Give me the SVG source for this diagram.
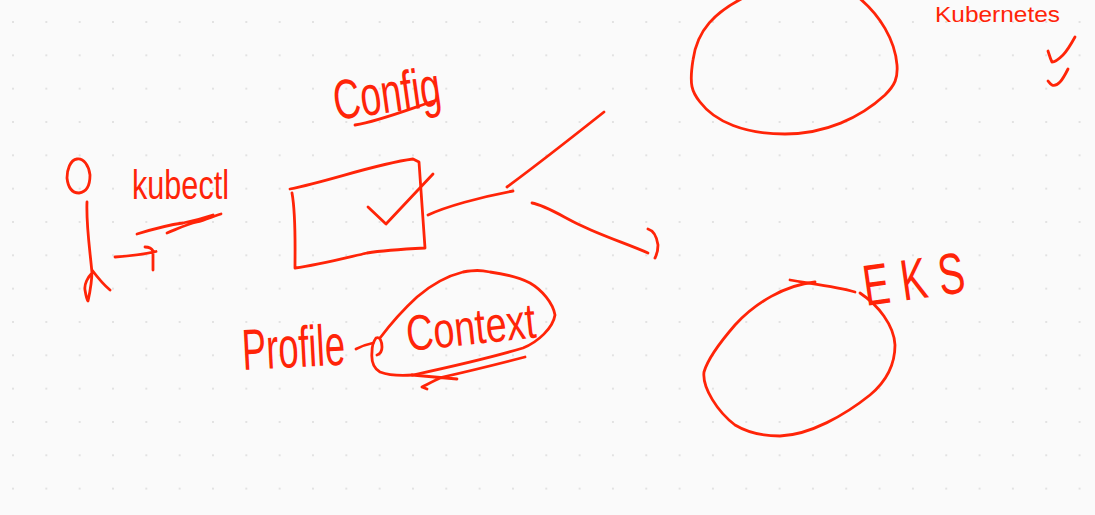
<svg xmlns="http://www.w3.org/2000/svg" width="1095" height="515" viewBox="0 0 1095 515">
<style>
.s{fill:none;stroke:#ff2408;stroke-width:2.8;stroke-linecap:round;stroke-linejoin:round}
.t{fill:#ff2408;font-family:"Liberation Sans Narrow","Liberation Sans",sans-serif;font-weight:400}
</style>
<defs>
<pattern id="dots" x="13" y="22" width="33.33" height="33.33" patternUnits="userSpaceOnUse">
<rect x="-1" y="-1" width="2" height="2" fill="#e2e2e2"/>
<rect x="32.33" y="-1" width="2" height="2" fill="#e2e2e2"/>
<rect x="-1" y="32.33" width="2" height="2" fill="#e2e2e2"/>
<rect x="32.33" y="32.33" width="2" height="2" fill="#e2e2e2"/>
</pattern>
</defs>
<rect width="1095" height="515" fill="#fafafa"/>
<rect width="1095" height="515" fill="url(#dots)"/>
<g id="actor">
<path class="s" d="M77 159C70 160 67 170 67 178C68 187 72 193 79 193C87 192 90 184 90 175C89 166 84 158 77 159Z"/>
<path class="s" d="M87 202C86 225 90 250 92 273C88 277 84 284 85 290C86 296 87 300 88 301C90 292 92 280 92 270C98 278 104 285 110 290"/>
</g>
<g id="kubectl">
<text class="t" x="132" y="199" font-size="40" textLength="97" lengthAdjust="spacingAndGlyphs">kubectl</text>
<path class="s" d="M137 234C150 230 168 225 183 223C193 221 204 218 213 215M167 233C177 229 187 224 197 222C205 220 214 216 221 214"/>
</g>
<g id="config">
<text class="t" transform="rotate(-8 336 120)" x="336" y="120" font-size="56" textLength="108" lengthAdjust="spacingAndGlyphs">Config</text>
<path class="s" d="M355 125C380 121 412 108 437 100"/>
</g>
<g id="box">
<path class="s" d="M290 189C330 181 375 164 413 159L419 162L425 248C405 249 385 250 367 253C345 258 318 265 295 268C295 245 296 215 292 193"/>
<path class="s" d="M368 207L386 224L433 174"/>
</g>
<g id="profile">
<text class="t" transform="rotate(-3 243 370)" x="243" y="370" font-size="58" textLength="103" lengthAdjust="spacingAndGlyphs">Profile</text>
</g>
<g id="context">
<path class="s" d="M380 338C392 322 405 308 417 297C432 284 447 276 463 272C475 270 480 270 490 272C505 274 518 277 530 283C542 290 553 303 555 315C553 328 538 342 523 348C490 358 450 367 413 375C400 376 388 375 380 372C373 368 371 362 372 352C372 345 373 342 376 338C380 336 382 342 382 347C382 351 380 354 377 355"/>
<text class="t" transform="rotate(-6 408 351)" x="408" y="351" font-size="50" textLength="130" lengthAdjust="spacingAndGlyphs">Context</text>
<path class="s" d="M412 375L457 379M525 357C498 364 470 371 443 377C435 380 428 384 422 387L427 389"/>
</g>
<g id="cluster-top">
<path class="s" d="M745 -3C715 12 697 30 693 60C689 85 692 92 700 102C715 122 745 134 785 134C825 134 860 118 885 95C895 85 898 78 897 65C895 40 880 15 858 -3"/>
</g>
<g id="kubernetes">
<text class="t" x="935" y="22" font-size="22" textLength="125" lengthAdjust="spacingAndGlyphs">Kubernetes</text>
</g>
<g id="checks">
<path class="s" d="M1075 37C1070 46 1066 52 1063 55C1059 59 1055 62 1052 62C1050 58 1049 54 1048 51"/>
<path class="s" d="M1068 69C1065 75 1063 79 1060 82C1057 85 1054 86 1052 85C1050 84 1049 82 1048 81"/>
</g>
<g id="cluster-eks">
<path class="s" d="M815 282C785 285 755 303 735 325C722 340 708 358 704 372C702 388 718 412 735 425C750 434 765 436 780 436C810 435 845 415 870 395C888 380 895 362 895 345C894 325 878 305 860 293"/>
<path class="s" d="M790 280C805 283 835 286 855 292"/>
<text class="t" transform="translate(866 306) rotate(-8) scale(.68 1)" x="0" y="0" font-size="58" textLength="150" lengthAdjust="spacing">EKS</text>
</g>
<g id="connectors">
<path class="s" d="M115 257C130 256 145 254 156 251.500M145 247C149 247 152 249 153 251C153 258 153 264 153 270"/>
<path class="s" d="M428 215C445 207 480 197 513 191"/>
<path class="s" d="M507 187C530 170 575 135 604 112"/>
<path class="s" d="M532 203C545 205 565 218 580 225C600 235 630 245 648 253"/>
<path class="s" d="M648 229C655 231 657 238 658 245C658 250 657 254 655 258"/>
<path class="s" d="M356 349C362 346 368 344 373 343"/>
</g>
</svg>
